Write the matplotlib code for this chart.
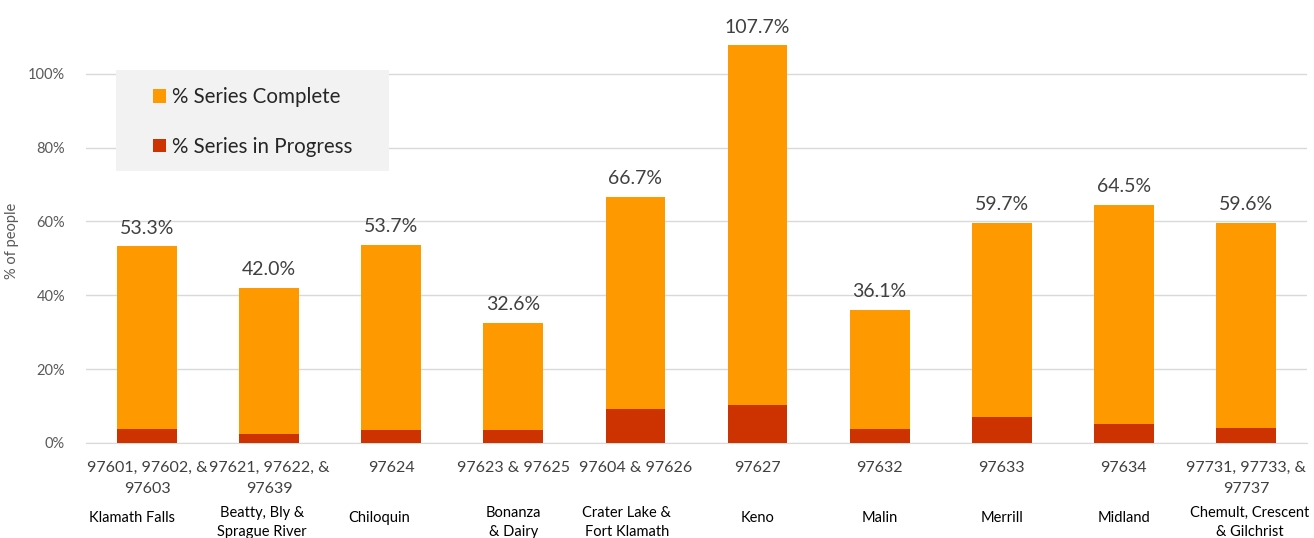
import matplotlib.pyplot as plt
import matplotlib.transforms as mtrans
from matplotlib.patches import Rectangle
import numpy as np

plt.rcParams['font.family'] = ['Lato', 'DejaVu Sans']

zips = ['97601, 97602, &\n97603', '97621, 97622, &\n97639', '97624',
        '97623 & 97625', '97604 & 97626', '97627', '97632', '97633',
        '97634', '97731, 97733, &\n97737']
names = ['Klamath Falls', 'Beatty, Bly &\nSprague River', 'Chiloquin',
         'Bonanza\n& Dairy', 'Crater Lake &\nFort Klamath', 'Keno', 'Malin',
         'Merrill', 'Midland', 'Chemult, Crescent\n& Gilchrist']
in_progress = [3.7, 2.5, 3.4, 3.4, 9.3, 10.4, 3.7, 7.0, 5.1, 4.1]
complete = [49.6, 39.5, 50.3, 29.2, 57.4, 97.3, 32.4, 52.7, 59.4, 55.5]
totals = [53.3, 42.0, 53.7, 32.6, 66.7, 107.7, 36.1, 59.7, 64.5, 59.6]

c_done = '#FF9900'
c_prog = '#CC3300'
grey = '#595959'

fig = plt.figure(figsize=(13.14, 5.38), dpi=100)
ax = fig.add_axes([0.0654, 0.1766, 0.9293, 0.8234])

x = np.arange(len(zips))
w = 0.49
ax.bar(x, in_progress, w, color=c_prog, label='% Series in Progress', zorder=3)
ax.bar(x, complete, w, bottom=in_progress, color=c_done,
       label='% Series Complete', zorder=3)

for xi, t in zip(x, totals):
    ax.annotate(f'{t:.1f}%', (xi, t), xytext=(0, 7), textcoords='offset points',
                ha='center', va='bottom', fontsize=14, color='#404040')

ax.set_xlim(-0.5, len(zips) - 0.5)
ax.set_ylim(0, 120)
ax.set_yticks(np.arange(0, 101, 20))
ax.set_yticklabels([f'{v}%' for v in range(0, 101, 20)])
ax.grid(axis='y', color='#d9d9d9', lw=1, zorder=0)
for s in ['top', 'right', 'left']:
    ax.spines[s].set_visible(False)
ax.spines['bottom'].set_color('#d9d9d9')
ax.tick_params(axis='y', length=0, pad=15, labelsize=10.5, labelcolor=grey)
ax.tick_params(axis='x', length=0, pad=13, labelsize=11.5, labelcolor='#404040')
ax.set_xticks(x)
ax.set_xticklabels(zips, linespacing=1.6)
ax.set_ylabel('% of people', fontsize=10.5, color=grey, labelpad=12)
ax.yaxis.set_label_coords(-0.055, 0.456)

# place names under the zip codes
trans = mtrans.blended_transform_factory(ax.transData, fig.transFigure)
name_dx = [-0.12, -0.06, -0.1, 0, -0.07, 0, 0, 0, 0, 0.03]
for xi, n, dx in zip(x, names, name_dx):
    yy = 0.029 if '\n' in n else 0.037
    ax.text(xi + dx, yy, n, transform=trans, ha='center', va='center',
            fontsize=10.5, color='black', linespacing=1.45)

# legend box
ax.add_patch(Rectangle((0.0246, 0.614), 0.2235, 0.228, transform=ax.transAxes,
                       facecolor='#f2f2f2', edgecolor='none', zorder=4))
h, l = ax.get_legend_handles_labels()
leg = ax.legend(h[::-1], l[::-1], loc='upper left', bbox_to_anchor=(0.0549, 0.803),
                frameon=False, fontsize=14.8, handlelength=0.62, handleheight=0.62,
                handletextpad=0.3, labelspacing=1.45, borderpad=0, borderaxespad=0)
leg.set_zorder(5)
for t in leg.get_texts():
    t.set_color('#262626')

plt.savefig('out.png', dpi=100)
